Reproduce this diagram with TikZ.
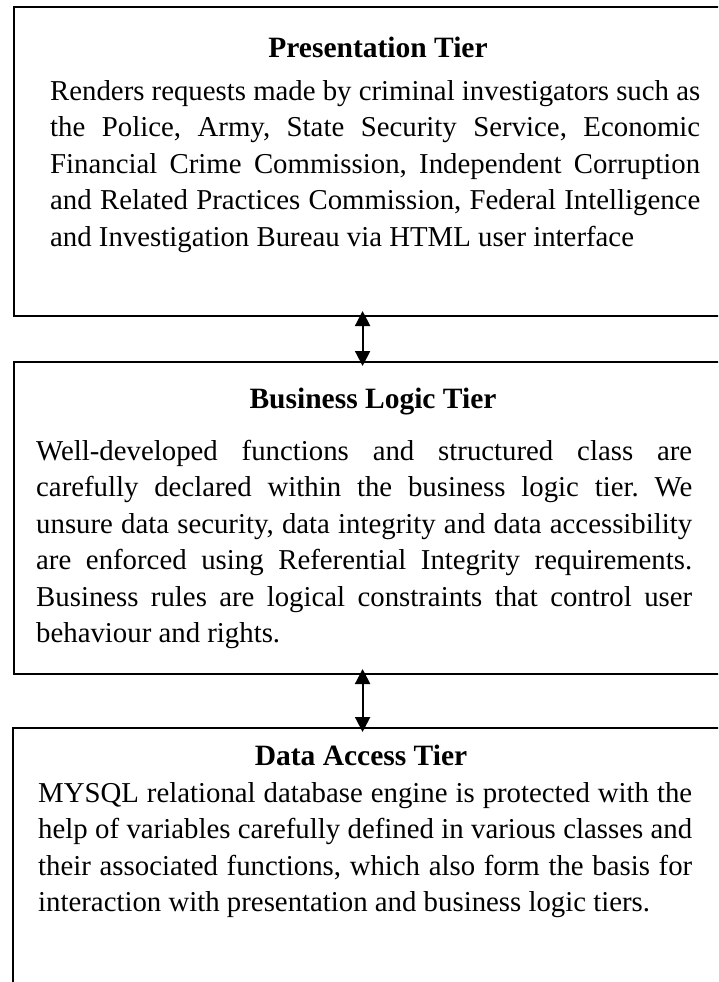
\documentclass[tikz,border=0pt]{standalone}
\usepackage{fontspec}
\setmainfont{Liberation Serif}
\usetikzlibrary{arrows.meta}

\newcommand{\tierpar}{\tolerance=10000\relax\hyphenpenalty=10000\relax
  \exhyphenpenalty=10000\relax\frenchspacing}

\tikzset{
  tierbox/.style={draw=black, line width=2pt, rectangle, outer sep=0pt, inner sep=0pt, anchor=north west},
  tiertitle/.style={inner sep=0pt, anchor=base, font=\fontsize{29.5}{36.5}\selectfont\bfseries},
  tierbody/.style={inner sep=0pt, anchor=base west, align=justify,
    font=\fontsize{28.8}{36.5}\selectfont, execute at begin node=\tierpar},
  link/.style={line width=2pt, {Triangle[length=15pt,width=15pt]}-{Triangle[length=15pt,width=15pt]},
    shorten <=-5pt, shorten >=-4pt}
}

\begin{document}
\begin{tikzpicture}[x=1pt,y=-1pt]
\useasboundingbox (0,0) rectangle (718,982);
\clip (0,0) rectangle (718,982);

% the three tiers; each frame runs off the right-hand edge
\node[tierbox, minimum width=726, minimum height=309] (pres) at (14,7) {};
\node[tierbox, minimum width=726, minimum height=312] (biz) at (14,362) {};
\node[tierbox, minimum width=727, minimum height=300] (data) at (13,728) {};

% presentation tier
\node[tiertitle] (prestitle) at (378,57) {Presentation Tier};
\node[tierbody, text width=650] (presbody) at (50,100) {%
Renders requests made by criminal investigators such as\linebreak
the Police, Army, State Security Service, Economic\linebreak
Financial Crime Commission, Independent Corruption\linebreak
and Related Practices Commission, Federal Intelligence\linebreak
and Investigation Bureau via HTML user interface};

% business logic tier
\node[tiertitle] (biztitle) at (373,408) {Business Logic Tier};
\node[tierbody, text width=656] (bizbody) at (36,460) {%
Well-developed functions and structured class are\linebreak
carefully declared within the business logic tier. We\linebreak
unsure data security, data integrity and data accessibility\linebreak
are enforced using Referential Integrity requirements.\linebreak
Business rules are logical constraints that control user\linebreak
behaviour and rights.};

% data access tier
\node[tiertitle] (datatitle) at (361,765) {Data Access Tier};
\node[tierbody, text width=654] (databody) at (38,802) {%
MYSQL relational database engine is protected with the\linebreak
help of variables carefully defined in various classes and\linebreak
their associated functions, which also form the basis for\linebreak
interaction with presentation and business logic tiers.};

% two-way links between neighbouring tiers
\coordinate (ax) at (362.6,0);
\draw[link] (pres.south -| ax) -- (biz.north -| ax);
\draw[link] (biz.south -| ax) -- (data.north -| ax);
\end{tikzpicture}
\end{document}
